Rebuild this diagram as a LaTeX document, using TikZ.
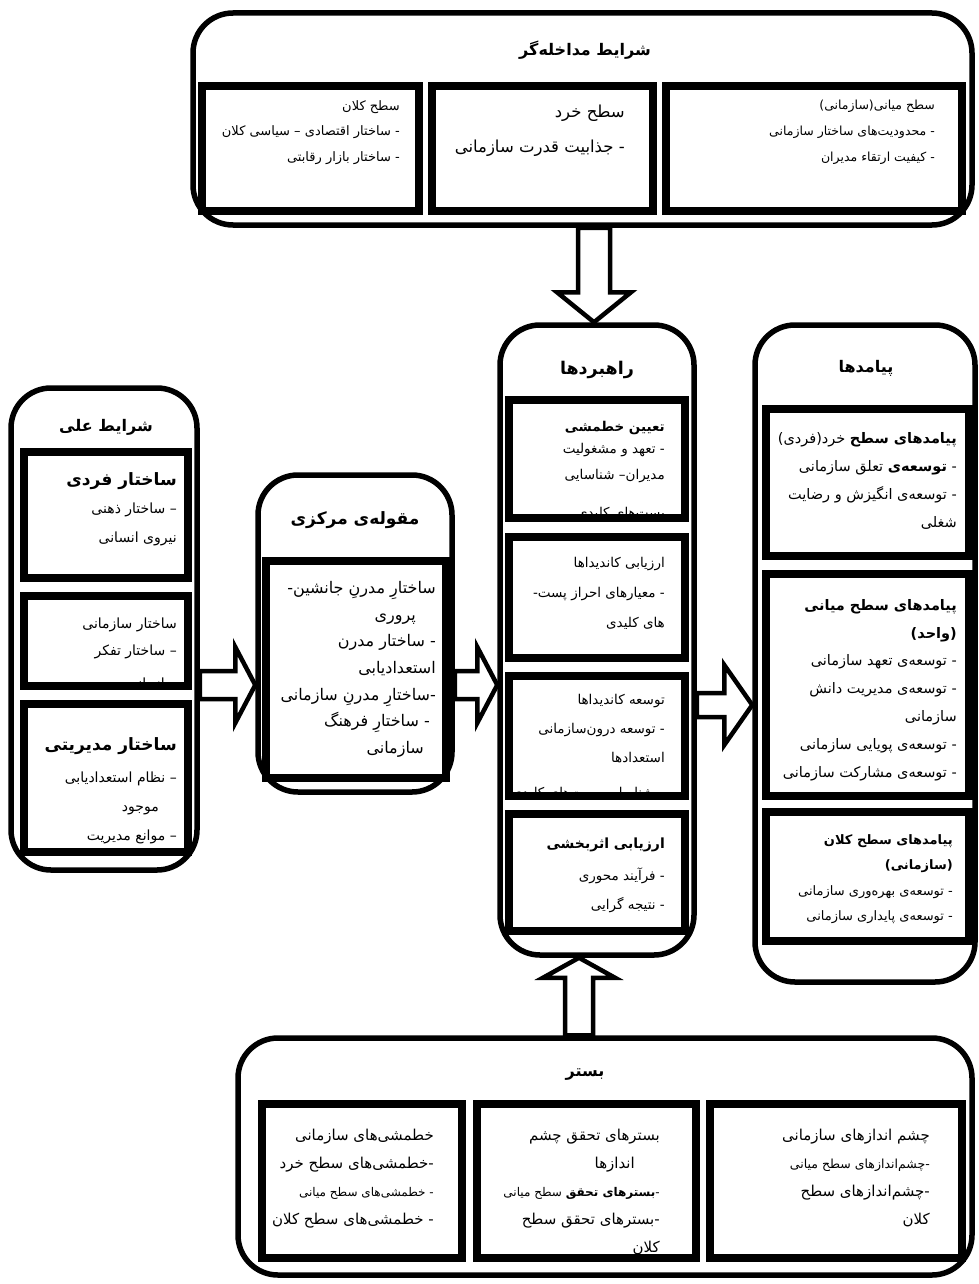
\documentclass[tikz,border=0pt]{standalone}
\usepackage{fontspec}
\newfontfamily\fafont[Script=Arabic]{DejaVu Sans}
\TeXXeTstate=1
\usetikzlibrary{calc,fit}
\pgfdeclarelayer{back}
\pgfdeclarelayer{bg}
\pgfsetlayers{back,bg,main}
\newcommand\fl[1]{\beginR #1\endR}
\tikzset{
  outerbox/.style={draw, line width=5.5pt, rounded corners=40pt, inner sep=0pt},
  innerbox/.style={draw, line width=7.5pt, inner sep=0pt},
  barrow/.style={draw, line width=4.5pt, fill=white, line join=miter},
  ttl/.style={inner sep=0pt, font=\fafont\bfseries\fontsize{#1pt}{20pt}\selectfont},
  head/.style={anchor=north east, inner sep=0pt, font=\fafont\bfseries\fontsize{#1pt}{20pt}\selectfont},
  body/.style 2 args={anchor=north east, align=right, inner sep=0pt, font=\fafont\fontsize{#1pt}{#2pt}\selectfont},
  clipin/.style={shift={(3.75,3.75)}},
  clipout/.style={shift={(-3.75,-3.75)}},
}
\begin{document}
\begin{tikzpicture}[x=1pt,y=-1pt]
\begin{pgfonlayer}{back}
\fill[white] (0,0) rectangle (979,1284);
\end{pgfonlayer}
\useasboundingbox (0,0) rectangle (979,1284);

% ---------- outer boxes
\node[outerbox, fit={(193,13) (972,225)}] (top) {};
\node[outerbox, fit={(11,388) (197,870)}] (lft) {};
\node[outerbox, fit={(258,475) (452,792)}] (mid) {};
\node[outerbox, fit={(500,325) (694,955)}] (rah) {};
\node[outerbox, fit={(755,325) (975,982)}] (pey) {};
\node[outerbox, fit={(238,1038) (972,1275)}] (bas) {};

% ---------- titles
\node[ttl=16] (topT) at (585,50) {\fl{شرایط مداخله‌گر}};
\node[ttl=16] (lftT) at (106,427) {\fl{شرایط علی}};
\node[ttl=17] (midT) at (355,520) {\fl{مقوله‌ی مرکزی}};
\node[ttl=17.5] (rahT) at (597,370) {\fl{راهبردها}};
\node[ttl=16] (peyT) at (866,368) {\fl{پیامدها}};
\node[ttl=16] (basT) at (585,1075) {\fl{بستر}};

% ---------- inner boxes
\node[innerbox, fit={(202,86) (419,211)}] (t1) {};
\node[innerbox, fit={(432,86) (653,211)}] (t2) {};
\node[innerbox, fit={(666,86) (962,211)}] (t3) {};

\node[innerbox, fit={(24,452) (188,578)}] (l1) {};
\node[innerbox, fit={(24,596) (188,686)}] (l2) {};
\node[innerbox, fit={(24,704) (188,852)}] (l3) {};

\node[innerbox, fit={(266,561) (446,778)}] (m1) {};

\node[innerbox, fit={(509,400) (685,518)}] (r1) {};
\node[innerbox, fit={(509,537) (685,658)}] (r2) {};
\node[innerbox, fit={(509,676) (685,796)}] (r3) {};
\node[innerbox, fit={(509,814) (685,931)}] (r4) {};

\node[innerbox, fit={(766,409) (969,556)}] (p1) {};
\node[innerbox, fit={(766,574) (969,796)}] (p2) {};
\node[innerbox, fit={(766,812) (969,941)}] (p3) {};

\node[innerbox, fit={(262,1104) (462,1258)}] (b1) {};
\node[innerbox, fit={(477,1104) (696,1258)}] (b2) {};
\node[innerbox, fit={(710,1104) (962,1258)}] (b3) {};

% ---------- texts: top
\node[body={13}{25.5}] (t1x) at (400,100) {\fl{سطح کلان}\\\fl{- ساختار اقتصادی – سیاسی کلان}\\\fl{- ساختار بازار رقابتی}};
\node[body={16.5}{35}] (t2x) at (625,105) {\fl{سطح خرد}\\\fl{- جذابیت قدرت سازمانی}};
\node[body={12.5}{26}] (t3x) at (935,100) {\fl{سطح میانی(سازمانی)}\\\fl{- محدودیت‌های ساختار سازمانی}\\\fl{- کیفیت ارتقاء مدیران}};

% ---------- texts: left
\node[head=17] (l1h) at (177,472) {\fl{ساختار فردی}};
\node[body={14}{29}] (l1x) at (177,503) {\fl{– ساختار ذهنی}\\\fl{نیروی انسانی}};
\begin{scope}
\clip ([clipin]l2.north west) rectangle ([clipout]l2.south east);
\node[body={14}{27}] (l2x) at (177,618) {\fl{ساختار سازمانی}\\\fl{– ساختار تفکر}\\[6pt]\fl{سازمانی}};
\end{scope}
\node[head=17] (l3h) at (177,737) {\fl{ساختار مدیریتی}};
\node[body={14}{29}] (l3x) at (177,772) {\fl{– نظام استعدادیابی}\\\fl{\hspace*{18pt}موجود}\\\fl{– موانع مدیریت}};

% ---------- texts: middle
\begin{scope}
\clip ([clipin]m1.north west) rectangle ([clipout]m1.south east);
\node[body={16}{26.7}] (m1x) at (436,581) {\fl{ساختارِ مدرنِ جانشین-}\\\fl{\hspace*{20pt}پروری}\\\fl{- ساختار مدرن}\\\fl{استعدادیابی}\\\fl{-ساختارِ مدرنِ سازمانی}\\\fl{\hspace*{6pt}- ساختارِ فرهنگ}\\\fl{\hspace*{12pt}سازمانی}};
\end{scope}

% ---------- texts: strategies
\node[head=13.5] (r1h) at (665,421) {\fl{تعیین خطمشی}};
\begin{scope}
\clip ([clipin]r1.north west) rectangle ([clipout]r1.south east);
\node[body={13.5}{26}] (r1x) at (665,443) {\fl{- تعهد و مشغولیت}\\\fl{مدیران– شناسایی}\\[12pt]\fl{پست‌های کلیدی}};
\end{scope}
\node[body={13.5}{30}] (r2x) at (665,557) {\fl{ارزیابی کاندیداها}\\\fl{- معیارهای احراز پست-}\\\fl{های کلیدی}};
\begin{scope}
\clip ([clipin]r3.north west) rectangle ([clipout]r3.south east);
\node[body={13.5}{29}] (r3x) at (665,694) {\fl{توسعه کاندیداها}\\\fl{- توسعه درون‌سازمانی}\\\fl{استعدادها}\\[6pt]\fl{– شناسایی پست‌های کلیدی}};
\end{scope}
\node[head=14] (r4h) at (665,838) {\fl{ارزیابی اثربخشی}};
\node[body={13.5}{29}] (r4x) at (665,868) {\fl{- فرآیند محوری}\\\fl{- نتیجه گرایی}};

% ---------- texts: outcomes
\node[body={14.5}{28}] (p1x) at (957,432) {\fl{{\bfseries پیامدهای سطح} خرد(فردی)}\\\fl{- {\bfseries توسعه‌ی} تعلق سازمانی}\\\fl{- توسعه‌ی انگیزش و رضایت}\\\fl{شغلی}};
\node[body={14.5}{27.8}] (p2x) at (957,599) {\fl{\bfseries پیامدهای سطح میانی}\\\fl{\bfseries (واحد)}\\\fl{- توسعه‌ی تعهد سازمانی}\\\fl{- توسعه‌ی مدیریت دانش}\\\fl{سازمانی}\\\fl{- توسعه‌ی پویایی سازمانی}\\\fl{- توسعه‌ی مشارکت سازمانی}};
\node[body={13}{25.5}] (p3x) at (953,834) {\fl{\bfseries پیامدهای سطح کلان}\\\fl{\bfseries (سازمانی)}\\\fl{- توسعه‌ی بهره‌وری سازمانی}\\\fl{- توسعه‌ی پایداری سازمانی}};

% ---------- texts: context
\node[body={15}{28}] (b1x) at (434,1129) {\fl{خطمشی‌های سازمانی}\\\fl{-خطمشی‌های سطح خرد}\\\fl{\fontsize{12pt}{28pt}\selectfont - خطمشی‌های سطح میانی}\\\fl{- خطمشی‌های سطح کلان}};
\node[body={15}{28}] (b2x) at (660,1129) {\fl{بسترهای تحقق چشم}\\\fl{\hspace*{25pt}اندازها}\\\fl{\fontsize{12pt}{28pt}\selectfont -{\bfseries بسترهای تحقق} سطح میانی}\\\fl{-بسترهای تحقق سطح}\\\fl{کلان}};
\node[body={15}{28}] (b3x) at (930,1129) {\fl{چشم اندازهای سازمانی}\\\fl{\fontsize{12.5pt}{28pt}\selectfont -چشم‌اندازهای سطح میانی}\\\fl{-چشم‌اندازهای سطح}\\\fl{کلان}};

% ---------- block arrows
\coordinate (xd) at (594,0);
\coordinate (xu) at (579,0);
\coordinate (ya) at (0,685);
\coordinate (yb) at (0,705);
\begin{pgfonlayer}{bg}
\draw[barrow] let \p1=(xd |- top.south), \p2=(xd |- rah.north) in
  (\x1-16pt,\y1) -- (\x1-16pt,\y2+30pt) -- (\x1-37pt,\y2+30pt) -- (\x2,\y2)
  -- (\x1+37pt,\y2+30pt) -- (\x1+16pt,\y2+30pt) -- (\x1+16pt,\y1) -- cycle;
\draw[barrow] let \p1=(xu |- bas.north), \p2=(xu |- rah.south) in
  (\x1-14pt,\y1) -- (\x1-14pt,\y2-20pt) -- (\x1-36pt,\y2-20pt) -- (\x2,\y2)
  -- (\x1+36pt,\y2-20pt) -- (\x1+14pt,\y2-20pt) -- (\x1+14pt,\y1) -- cycle;
\draw[barrow] let \p1=(lft.east |- ya), \p2=(mid.west |- ya) in
  (\x1,\y1+14pt) -- (\x2-20pt,\y1+14pt) -- (\x2-20pt,\y1+38pt) -- (\x2,\y2)
  -- (\x2-20pt,\y1-38pt) -- (\x2-20pt,\y1-14pt) -- (\x1,\y1-14pt) -- cycle;
\draw[barrow] let \p1=(mid.east |- ya), \p2=(rah.west |- ya) in
  (\x1,\y1+14pt) -- (\x2-20pt,\y1+14pt) -- (\x2-20pt,\y1+38pt) -- (\x2,\y2)
  -- (\x2-20pt,\y1-38pt) -- (\x2-20pt,\y1-14pt) -- (\x1,\y1-14pt) -- cycle;
\draw[barrow] let \p1=(rah.east |- yb), \p2=(pey.west |- yb) in
  (\x1,\y1+12pt) -- (\x2-28pt,\y1+12pt) -- (\x2-28pt,\y1+40pt) -- (\x2,\y2)
  -- (\x2-28pt,\y1-40pt) -- (\x2-28pt,\y1-12pt) -- (\x1,\y1-12pt) -- cycle;
\end{pgfonlayer}
\end{tikzpicture}
\end{document}
